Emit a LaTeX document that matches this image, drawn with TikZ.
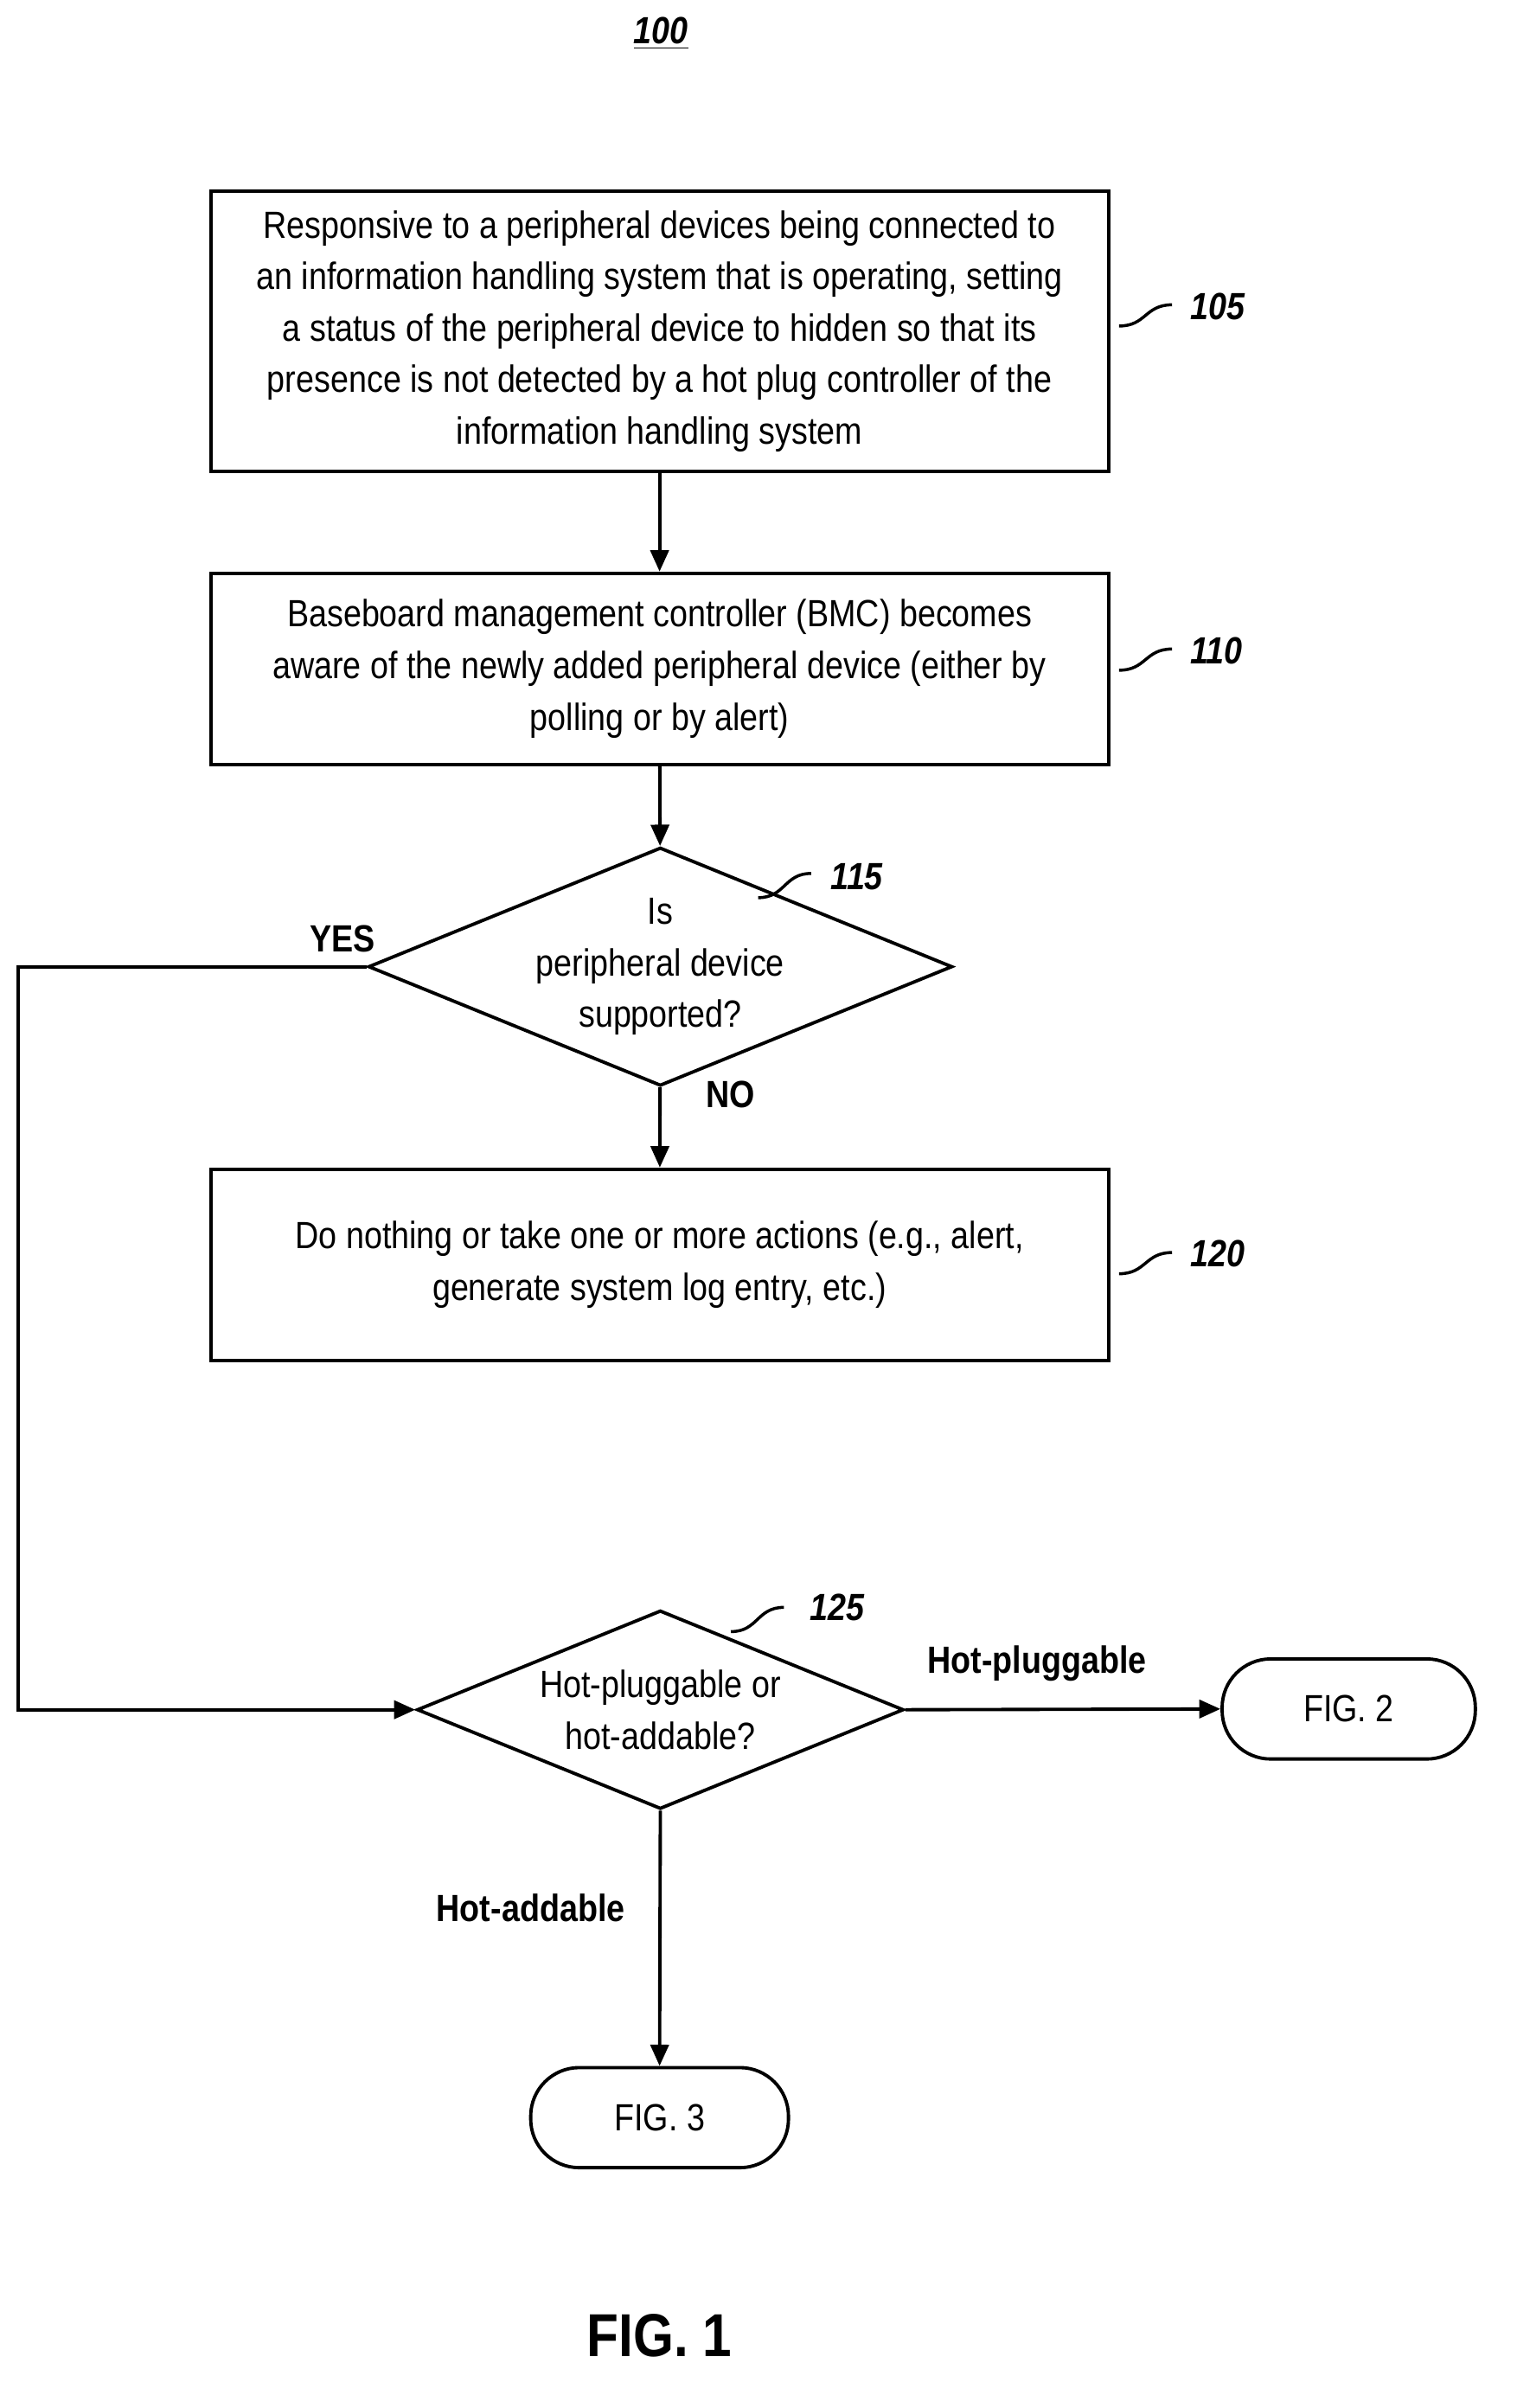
\documentclass[tikz,border=0pt]{standalone}
\usepackage{fontspec}
\setmainfont{Liberation Sans}[FakeStretch=0.86]
\usetikzlibrary{shapes.geometric,arrows.meta}
\begin{document}
\begin{tikzpicture}[x=0.5pt,y=-0.5pt,
  font=\fontsize{12.5}{17}\selectfont,
  box/.style={draw,line width=1.1pt,minimum width=296pt,align=center,inner sep=0pt},
  dia/.style={draw,line width=1.1pt,diamond,minimum width=160.5pt,minimum height=65.5pt,aspect=2.45,inner sep=0pt,align=center},
  term/.style={draw,line width=1.1pt,rounded corners=16pt,minimum height=33pt,align=center},
  lbl/.style={font=\fontsize{12.5}{15}\selectfont\bfseries\itshape},
  cond/.style={font=\fontsize{12.5}{15}\selectfont\bfseries},
  ln/.style={line width=1.1pt},
  arr/.style={ln,-{Triangle[length=7pt,width=6pt]}},
  sq/.style={line width=1pt}]
\useasboundingbox (0,0) rectangle (1000,1588);
\node[font=\fontsize{12.5}{15}\selectfont\bfseries\itshape] (t100) at (436,22) {\underline{100}};
\node[box,minimum height=92.5pt] (b105) at (435,218.5) {Responsive to a peripheral devices being connected to\\an information handling system that is operating, setting\\a status of the peripheral device to hidden so that its\\presence is not detected by a hot plug controller of the\\information handling system};
\node[box,minimum height=63pt] (b110) at (435,441) {Baseboard management controller (BMC) becomes\\aware of the newly added peripheral device (either by\\polling or by alert)};
\node[dia] (d115) at (435.5,637.5) {Is\\peripheral device\\supported?};
\node[box,minimum height=63pt] (b120) at (435,834) {Do nothing or take one or more actions (e.g., alert,\\generate system log entry, etc.)};
\node[dia] (d125) at (435.5,1127.5) {Hot-pluggable or\\hot-addable?};
\node[term,minimum width=83.5pt] (f2) at (889.5,1127) {FIG. 2};
\node[term,minimum width=85pt] (f3) at (435,1396.5) {FIG. 3};
\node[font=\fontsize{20}{24}\selectfont\bfseries] (f1) at (435,1540) {FIG. 1};
% ref labels
\foreach \n/\x/\y in {105/738/215,110/738/442,120/738/840}{
  \coordinate (s\n) at (\x,\y); \coordinate (e\n) at (\x+35,\y-14);
  \draw[sq] (s\n) .. controls (\x+18,\y) and (\x+17,\y-14) .. (e\n);
  \node[lbl,anchor=west] (l\n) at (\x+40,\y-13) {\n};}
\coordinate (s115) at (500,592); \coordinate (e115) at (535,576);
\draw[sq] (s115) .. controls (518,592) and (517,576) .. (e115);
\node[lbl,anchor=west] (l115) at (541,578) {115};
\coordinate (s125) at (482,1076); \coordinate (e125) at (517,1060);
\draw[sq] (s125) .. controls (500,1076) and (499,1060) .. (e125);
\node[lbl,anchor=west] (l125) at (527,1060) {125};
% connectors
\draw[arr] (b105) -- (b110);
\draw[arr] (b110) -- (d115);
\draw[arr] (d115) -- (b120);
\coordinate (c1) at (12,637.5); \coordinate (c2) at (12,1127.5);
\draw[arr] (d115.west) -- (c1) -- (c2) -- (d125.west);
\draw[arr] (d125.east) -- (f2.west);
\draw[arr] (d125.south) -- (f3.north);
\node[cond] (yes) at (226,619) {YES};
\node[cond] (no) at (482,722) {NO};
\node[cond] (hp) at (684,1097) {Hot-pluggable};
\node[cond] (ha) at (350,1258) {Hot-addable};
\end{tikzpicture}
\end{document}
